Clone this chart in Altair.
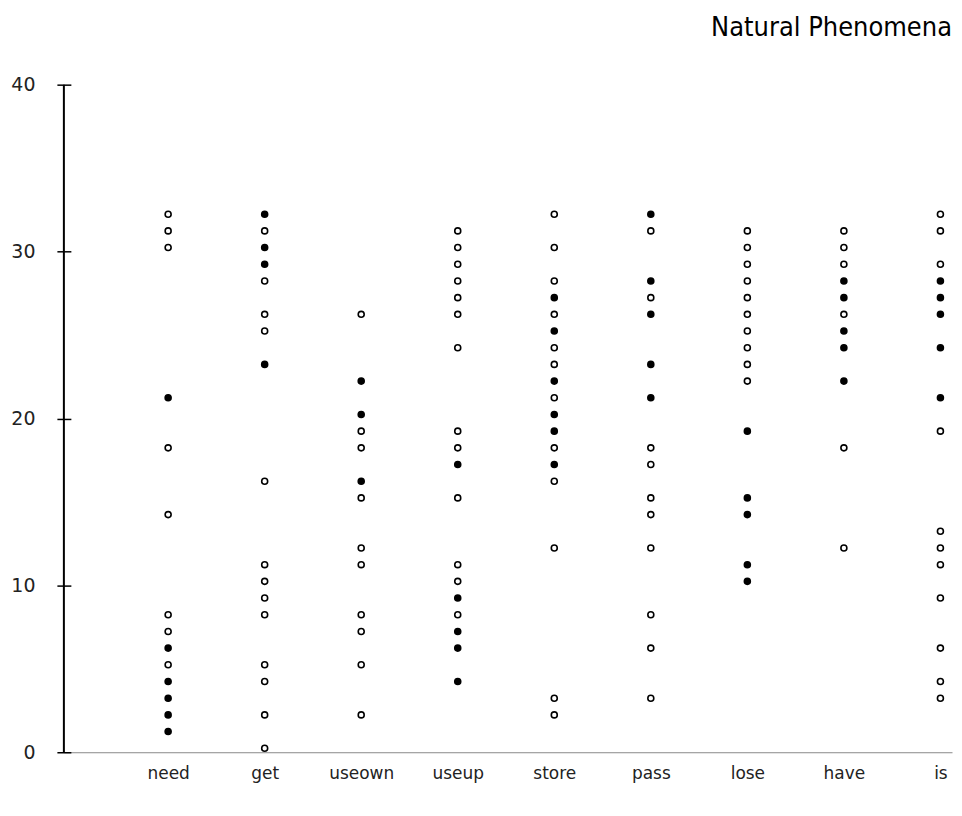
import altair as alt
import pandas as pd

categories = ["need", "get", "useown", "useup", "store", "pass", "lose", "have", "is"]

open_values = {
    "need": [32, 31, 30, 18, 14, 8, 7, 5],
    "get": [31, 28, 26, 25, 16, 11, 10, 9, 8, 5, 4, 2, 0],
    "useown": [26, 19, 18, 15, 12, 11, 8, 7, 5, 2],
    "useup": [31, 30, 29, 28, 27, 26, 24, 19, 18, 15, 11, 10, 8],
    "store": [32, 30, 28, 26, 24, 23, 21, 18, 16, 12, 3, 2],
    "pass": [31, 27, 18, 17, 15, 14, 12, 8, 6, 3],
    "lose": [31, 30, 29, 28, 27, 26, 25, 24, 23, 22],
    "have": [31, 30, 29, 26, 18, 12],
    "is": [32, 31, 29, 19, 13, 12, 11, 9, 6, 4, 3],
}

filled_values = {
    "need": [21, 6, 4, 3, 2, 1],
    "get": [32, 30, 29, 23],
    "useown": [22, 20, 16],
    "useup": [17, 9, 7, 6, 4],
    "store": [27, 25, 22, 20, 19, 17],
    "pass": [32, 28, 26, 23, 21],
    "lose": [19, 15, 14, 11, 10],
    "have": [28, 27, 25, 24, 22],
    "is": [28, 27, 26, 24, 21],
}

y_ticks = [0, 10, 20, 30, 40]
y_domain = [0, 40]

rows = []
for c in categories:
    for v in open_values[c]:
        rows.append({"verb": c, "count": v, "kind": "open"})
    for v in filled_values[c]:
        rows.append({"verb": c, "count": v, "kind": "filled"})
df = pd.DataFrame(rows)

W, H = 890, 669

y_scale = alt.Scale(domain=y_domain, nice=False, zero=True)

axis_line = alt.Chart(pd.DataFrame({"y0": [y_domain[0]], "y1": [y_domain[1]]})).mark_rule(
    color="black", strokeWidth=2
).encode(
    x=alt.value(0),
    y=alt.Y("y0:Q", scale=y_scale, title=None),
    y2="y1:Q",
)

points = alt.Chart(df).mark_circle(
    size=36, stroke="black", strokeWidth=1.6, opacity=1
).encode(
    x=alt.X(
        "verb:N",
        sort=categories,
        scale=alt.Scale(type="point", padding=0.6, align=0.9),
        axis=alt.Axis(
            title=None, ticks=False, domain=True, domainColor="#8a8a8a", domainWidth=1,
            labelAngle=0, labelFont="DejaVu Sans", labelFontSize=17, labelPadding=13,
            labelColor="#222222",
        ),
    ),
    y=alt.Y(
        "count:Q",
        scale=y_scale,
        title=None,
        axis=alt.Axis(
            values=y_ticks, grid=False, domain=False, tickSize=14, offset=-7,
            tickColor="black", tickWidth=1.5, labelPadding=22,
            labelFont="DejaVu Sans", labelFontSize=19, labelColor="#222222",
        ),
    ),
    fill=alt.Fill(
        "kind:N",
        scale=alt.Scale(domain=["open", "filled"], range=["white", "black"]),
        legend=None,
    ),
    yOffset=alt.value(-4),
)

chart = alt.layer(axis_line, points).properties(
    width=W,
    height=H,
    padding={"left": 2, "top": 5, "right": 2, "bottom": 5},
    title=alt.TitleParams(
        "Natural Phenomena", anchor="end", fontSize=27, font="DejaVu Sans Condensed, DejaVu Sans",
        fontWeight="normal", offset=34, color="black",
    ),
).configure_view(stroke=None)

chart.save("out.html", embed_options={"renderer": "svg", "actions": False})
